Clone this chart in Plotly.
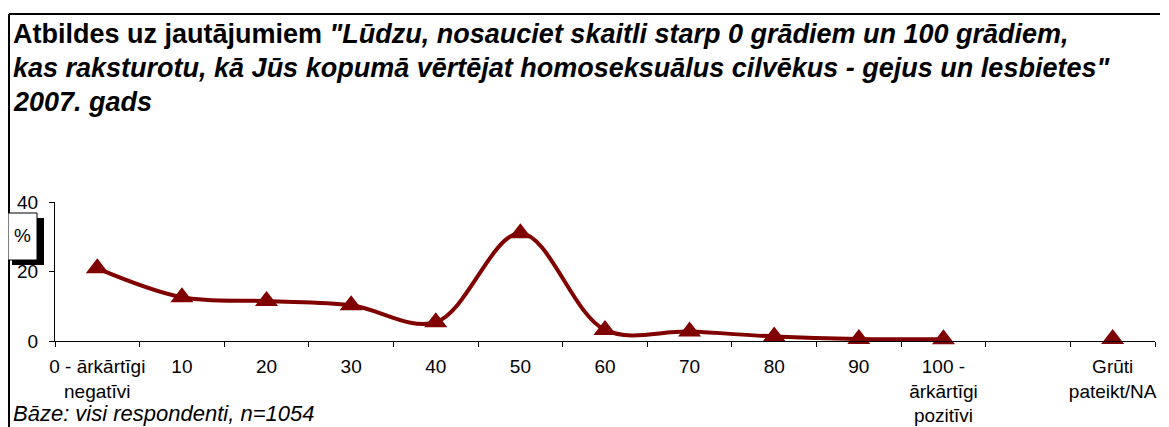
import plotly.graph_objects as go

categories = ["0 - ārkārtīgi<br>negatīvi", "10", "20", "30", "40", "50", "60", "70", "80", "90",
              "100 -<br>ārkārtīgi<br>pozitīvi", " ", "Grūti<br>pateikt/NA"]
values = [20.9, 12.6, 11.5, 10.3, 5.4, 31.0, 3.2, 2.7, 1.3, 0.6, 0.5, None, 0.6]
y_ticks = [0, 20, 40]

title_lines = [
    "<b>Atbildes uz jautājumiem </b><b><i>\"Lūdzu, nosauciet skaitli starp 0 grādiem un 100 grādiem,</i></b>",
    "<b><i>kas raksturotu, kā Jūs kopumā vērtējat homoseksuālus cilvēkus - gejus un lesbietes\"</i></b>",
    "<b><i>2007. gads</i></b>",
]
footnote = "<i>Bāze: visi respondenti, n=1054</i>"

# page offset of the figure inside the browser body (default body margin)
OFF = 8
PAGE_W, PAGE_H = 1169, 427
W, H = PAGE_W - OFF, PAGE_H - OFF
# plot area in page pixels: x 55..1155, y 202..341
L, R, T, B = 55 - OFF, PAGE_W - 1155, 202 - OFF, PAGE_H - 341
PW, PH = W - L - R, H - T - B


def px(x):
    """page pixel x -> paper coordinate"""
    return (x - OFF - L) / PW


def py(y):
    """page pixel y -> paper coordinate"""
    return (H - B - (y - OFF)) / PH


FONT = "Liberation Sans, Arial, sans-serif"
RED = "#800000"

fig = go.Figure()
fig.add_trace(go.Scatter(
    x=categories, y=values, mode="lines+markers",
    line=dict(color=RED, width=4, shape="spline", smoothing=1.0),
    marker=dict(symbol="triangle-up", size=20, color=RED),
    connectgaps=False, showlegend=False, cliponaxis=False,
))

shapes = [
    # frame: top edge (two segments) and left edge
    dict(type="line", xref="paper", yref="paper", x0=px(100), x1=px(1160), y0=py(14), y1=py(14),
         line=dict(color="black", width=2)),
    dict(type="line", xref="paper", yref="paper", x0=px(9), x1=px(102), y0=py(14), y1=py(14),
         line=dict(color="black", width=2)),
    dict(type="line", xref="paper", yref="paper", x0=px(9), x1=px(9), y0=py(14), y1=py(PAGE_H + 10),
         line=dict(color="black", width=2)),
    # % box shadow + box
    dict(type="rect", xref="paper", yref="paper", x0=px(12), x1=px(44), y0=py(218), y1=py(265),
         fillcolor="black", line=dict(width=0)),
    dict(type="rect", xref="paper", yref="paper", x0=px(8), x1=px(37), y0=py(213), y1=py(260),
         fillcolor="white", line=dict(color="black", width=1)),
]

annotations = []
for txt, yy in zip(title_lines, [34, 68, 102]):
    annotations.append(dict(text=txt, xref="paper", yref="paper", x=px(11), y=py(yy),
                            xanchor="left", yanchor="middle", showarrow=False,
                            font=dict(family=FONT, size=27, color="black")))
annotations.append(dict(text="%", xref="paper", yref="paper", x=px(22), y=py(235),
                        xanchor="center", yanchor="middle", showarrow=False,
                        font=dict(family=FONT, size=19, color="black")))
annotations.append(dict(text=footnote, xref="paper", yref="paper", x=px(11), y=py(413),
                        xanchor="left", yanchor="middle", showarrow=False,
                        font=dict(family=FONT, size=22, color="black")))

fig.update_layout(
    width=W, height=H, autosize=False,
    margin=dict(l=L, r=R, t=T, b=B, pad=0, autoexpand=False),
    paper_bgcolor="white", plot_bgcolor="white",
    font=dict(family=FONT, size=19, color="black"),
    shapes=shapes, annotations=annotations,
    xaxis=dict(type="category", categoryorder="array", categoryarray=categories,
               range=[-0.5, len(categories) - 0.5], tickson="boundaries",
               showline=True, linecolor="black", linewidth=1,
               ticks="outside", ticklen=5, tickcolor="black", tickwidth=1,
               showgrid=False, zeroline=False, ticklabelstandoff=8, tickangle=0,
               automargin=False,
               tickfont=dict(family=FONT, size=19, color="black")),
    yaxis=dict(range=[0, 40], tickvals=y_ticks, showline=True, linecolor="black", linewidth=1,
               ticks="outside", ticklen=5, tickcolor="black", tickwidth=1,
               showgrid=False, zeroline=False, ticklabelstandoff=7, automargin=False,
               tickfont=dict(family=FONT, size=19, color="black")),
)

fig.write_html("out.html")
